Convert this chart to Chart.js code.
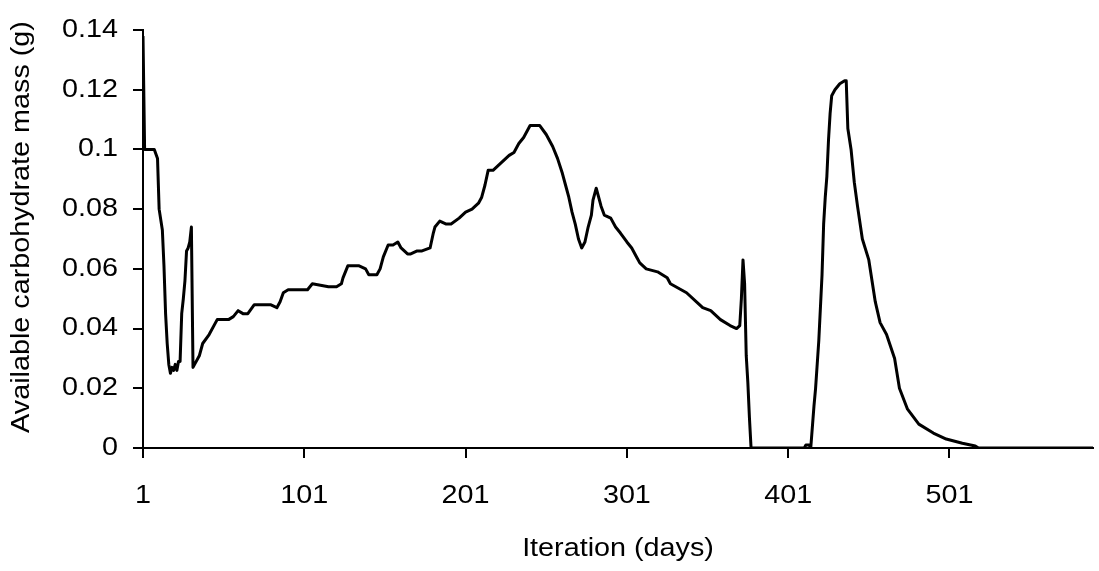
<!DOCTYPE html>
<html>
<head>
<meta charset="utf-8">
<script src="https://cdn.jsdelivr.net/npm/chart.js@4/dist/chart.umd.min.js"></script>
<style>
html,body{margin:0;padding:0;background:#fff;}
#wrap{width:1099px;height:571px;}
</style>
</head>
<body>
<div id="wrap"><canvas id="c" width="1099" height="571"></canvas></div>
<script>
const days = [1,2,8,10,11,13,14,15,16,17,18,19,20,21,22,23,24,25,26,27,28,29,30,31,32,33,36,38,42,47,50,54,57,60,63,66,70,74,80,84,86,88,91,98,103,106,116,121,124,125,128,135,139,141,146,148,150,153,156,159,161,165,167,171,174,179,181,182,185,189,192,197,201,205,209,211,213,215,218,222,228,231,234,237,240,241,245,247,251,255,258,261,263,265,267,269,271,273,275,277,279,280,282,283,285,287,291,294,297,301,304,307,309,313,320,326,328,338,346,348,353,359,365,369,371,372,373,374,375,376,377,378,411,412,414,415,417,418,420,422,423,424,425,426,427,428,430,433,436,437,438,440,442,444,447,451,455,458,462,467,470,475,482,491,499,509,517,519,590];
const carbMass = [0.138,0.100,0.100,0.097,0.080,0.073,0.061,0.045,0.035,0.028,0.025,0.027,0.026,0.028,0.026,0.029,0.029,0.045,0.050,0.056,0.066,0.067,0.069,0.074,0.027,0.028,0.031,0.035,0.038,0.043,0.043,0.043,0.044,0.046,0.045,0.045,0.048,0.048,0.048,0.047,0.049,0.052,0.053,0.053,0.053,0.055,0.054,0.054,0.055,0.057,0.061,0.061,0.060,0.058,0.058,0.060,0.064,0.068,0.068,0.069,0.067,0.065,0.065,0.066,0.066,0.067,0.072,0.074,0.076,0.075,0.075,0.077,0.079,0.080,0.082,0.084,0.088,0.093,0.093,0.095,0.098,0.099,0.102,0.104,0.107,0.108,0.108,0.108,0.105,0.101,0.097,0.092,0.088,0.084,0.079,0.075,0.070,0.067,0.069,0.074,0.078,0.083,0.087,0.085,0.081,0.078,0.077,0.074,0.072,0.069,0.067,0.064,0.062,0.060,0.059,0.057,0.055,0.052,0.048,0.047,0.046,0.043,0.041,0.040,0.041,0.050,0.063,0.055,0.031,0.022,0.010,0,0,0.001,0.001,0,0.014,0.020,0.036,0.058,0.075,0.084,0.091,0.103,0.112,0.118,0.120,0.122,0.123,0.123,0.107,0.100,0.089,0.081,0.070,0.063,0.049,0.042,0.038,0.030,0.020,0.013,0.008,0.005,0.003,0.0016,0.0007,0,0];
const xTickValues = [1,101,201,301,401,501];
const yTickValues = [0,0.02,0.04,0.06,0.08,0.1,0.12,0.14];
const yTickLabels = ['0','0.02','0.04','0.06','0.08','0.1','0.12','0.14'];
const xTitle = 'Iteration (days)';
const yTitle = 'Available carbohydrate mass (g)';

// the reference typeface is slightly wide: stretch text horizontally about its anchor point
(function(){
  const proto = CanvasRenderingContext2D.prototype;
  const orig = proto.fillText;
  proto.fillText = function(t, x, y){
    this.save(); this.translate(x, y); this.scale(1.15, 1);
    orig.call(this, t, 0, 0);
    this.restore();
  };
})();

const FONT = "'Liberation Sans', Arial, sans-serif";
const points = days.map((d,i)=>({x:d,y:carbMass[i]}));

// draws the y-axis title slightly above the plot centre, as in the reference
const yTitlePlugin = {
  id: 'yTitle',
  afterDraw(chart) {
    const ctx = chart.ctx, ca = chart.chartArea;
    ctx.save();
    ctx.translate(22, (ca.top + ca.bottom) / 2 - 12);
    ctx.rotate(-Math.PI / 2);
    ctx.font = "25px " + FONT;
    ctx.fillStyle = '#000';
    ctx.textAlign = 'center';
    ctx.textBaseline = 'middle';
    ctx.fillText(yTitle, 0, 0);
    ctx.restore();
  }
};

new Chart(document.getElementById('c'), {
  type: 'line',
  data: { datasets: [{ data: points, borderColor: '#000', borderWidth: 3, pointRadius: 0, tension: 0, fill: false, borderJoinStyle: 'round' }] },
  options: {
    responsive: false,
    animation: false,
    plugins: { legend: { display: false }, tooltip: { enabled: false } },
    layout: { padding: { left: 0, top: 28, right: 6, bottom: 0 } },
    scales: {
      x: {
        type: 'linear', min: 1, max: 590,
        afterBuildTicks: s => { s.ticks = xTickValues.map(v => ({ value: v })); },
        afterFit: s => { s.height = 123; },
        ticks: { color: '#000', font: { family: FONT, size: 25 }, padding: 23, maxRotation: 0, autoSkip: false,
                 callback: v => String(v) },
        grid: { display: true, drawOnChartArea: false, drawTicks: true, tickLength: 10, color: '#000', lineWidth: 2 },
        border: { display: true, color: '#000', width: 2 },
        title: { display: true, text: xTitle, color: '#000', font: { family: FONT, size: 25 }, padding: { top: 0, bottom: 7 } }
      },
      y: {
        type: 'linear', min: 0, max: 0.14,
        afterBuildTicks: s => { s.ticks = yTickValues.map(v => ({ value: v })); },
        afterFit: s => { s.width = 143; },
        ticks: { color: '#000', font: { family: FONT, size: 25 }, padding: 15, autoSkip: false,
                 callback: (v, i) => yTickLabels[i] },
        grid: { display: true, drawOnChartArea: false, drawTicks: true, tickLength: 10, color: '#000', lineWidth: 2 },
        border: { display: true, color: '#000', width: 2 },
        title: { display: false }
      }
    }
  },
  plugins: [yTitlePlugin]
});
</script>
</body>
</html>
